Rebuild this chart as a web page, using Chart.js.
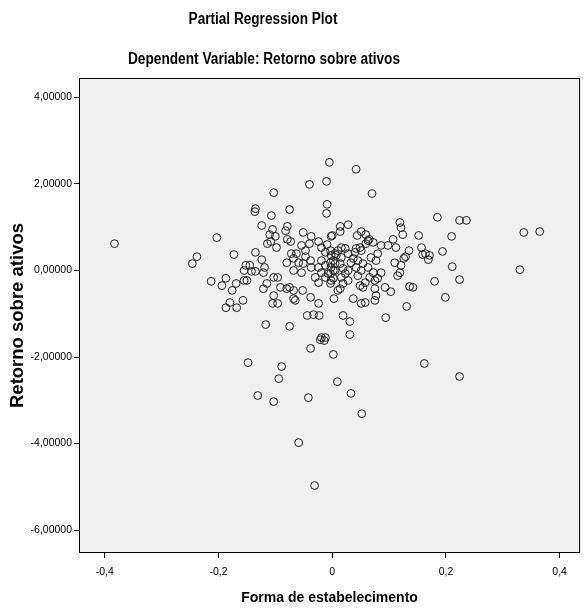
<!DOCTYPE html>
<html><head><meta charset="utf-8">
<script src="https://cdn.jsdelivr.net/npm/chart.js@4"></script>
<style>html,body{margin:0;padding:0;background:#fff;} #wrap{width:585px;height:613px;position:relative}</style>
</head><body><div id="wrap"><canvas id="c" width="585" height="613"></canvas></div>
<script>
const chartTitle = 'Partial Regression Plot';
const chartSubtitle = 'Dependent Variable: Retorno sobre ativos';
const xAxisTitle = 'Forma de estabelecimento';
const yAxisTitle = 'Retorno sobre ativos';
const xTickValues = [-0.4, -0.2, 0, 0.2, 0.4];
const xTickLabels = ['-0,4', '-0,2', '0', '0,2', '0,4'];
const yTickValues = [-6, -4, -2, 0, 2, 4];
const yTickLabels = ['-6,00000', '-4,00000', '-2,00000', '0,00000', '2,00000', '4,00000'];

const xValues = [
 -0.383,-0.246,-0.238,-0.203,-0.173,-0.135,-0.136,-0.135,-0.152,-0.145,
 -0.155,-0.142,-0.135,-0.155,-0.150,-0.213,-0.187,-0.194,-0.169,-0.176,
 -0.180,-0.187,-0.168,-0.157,-0.148,-0.089,-0.094,-0.131,-0.103,-0.038,
 -0.021,-0.014,0.031,0.002,0.009,-0.042,0.033,0.052,-0.059,-0.031,
 0.162,0.224,0.330,0.337,0.365,0.185,0.224,0.236,0.210,0.152,
 0.119,0.121,0.124,0.194,0.211,0.180,0.224,0.199,0.157,0.135,
 0.159,0.164,0.171,0.169,0.126,0.129,0.121,0.119,0.136,0.142,
 0.131,0.094,0.115,-0.005,0.042,-0.040,-0.010,0.070,-0.103,-0.107,
 -0.075,-0.009,-0.010,-0.124,-0.105,-0.079,-0.082,0.028,0.014,0.014,
 0.051,0.059,-0.051,0.000,0.107,-0.110,-0.100,-0.114,-0.108,-0.098,
 -0.073,-0.079,-0.037,-0.024,-0.040,0.044,0.065,0.072,0.086,0.098,
 0.112,-0.124,-0.119,-0.080,-0.072,-0.063,-0.054,-0.047,-0.002,-0.009,
 -0.019,-0.012,-0.003,0.005,-0.068,-0.059,-0.047,-0.051,-0.038,-0.068,
 -0.054,-0.037,-0.024,-0.019,-0.030,-0.024,-0.012,-0.007,0.002,-0.002,
 -0.019,-0.012,-0.003,0.005,-0.121,-0.103,-0.096,-0.115,-0.121,-0.091,
 -0.080,-0.075,-0.068,-0.068,-0.065,-0.052,-0.038,-0.103,-0.105,-0.096,
 -0.024,-0.117,-0.075,-0.044,-0.033,-0.023,-0.019,-0.012,0.063,0.059,
 0.049,0.042,0.051,0.040,0.016,0.023,0.010,0.028,-0.002,0.007,
 0.016,0.002,0.014,0.037,0.045,0.033,0.054,0.068,0.080,0.077,
 0.110,-0.002,0.005,-0.003,0.002,0.019,0.028,0.023,0.016,0.042,
 0.051,0.045,0.063,0.072,0.066,0.086,0.080,0.075,0.058,0.049,
 0.054,0.028,0.019,0.014,0.010,0.075,0.077,0.075,0.093,0.103,
 -0.003,0.037,0.051,0.058,0.003,0.019,0.031
];
const yValues = [
 0.62,0.16,0.32,0.76,0.37,0.42,1.36,1.43,0.12,0.12,
 0.00,-0.02,-0.02,-0.23,-0.23,-0.25,-0.18,-0.35,-0.30,-0.46,
 -0.74,-0.86,-0.86,-0.69,-2.13,-2.22,-2.50,-2.89,-3.03,-1.80,
 -1.60,-1.62,-1.48,-1.94,-2.57,-2.94,-2.84,-3.31,-3.98,-4.97,
 -2.15,-2.45,0.02,0.88,0.90,1.23,1.16,1.16,0.79,0.81,
 1.11,0.99,0.83,0.44,0.09,-0.25,-0.21,-0.62,0.53,0.46,
 0.37,0.39,0.35,0.25,0.28,0.32,0.12,-0.05,-0.37,-0.39,
 -0.83,-1.09,-0.12,2.50,2.34,1.99,2.06,1.78,1.80,1.27,
 1.41,1.53,1.32,1.04,0.95,1.02,0.92,1.06,1.02,0.90,
 0.90,0.83,0.88,0.81,0.72,0.83,0.79,0.62,0.67,0.53,
 0.67,0.72,0.79,0.67,0.62,0.81,0.72,0.65,0.58,0.58,
 0.53,0.25,0.07,0.18,0.39,0.39,0.58,0.46,0.79,0.60,
 0.53,0.42,0.46,0.39,0.28,0.18,0.32,0.16,0.23,0.00,
 -0.05,0.07,0.07,-0.05,-0.16,-0.28,-0.16,-0.07,0.00,-0.23,
 0.23,0.12,0.18,0.16,-0.05,-0.16,-0.16,-0.30,-0.42,-0.39,
 -0.42,-0.39,-0.46,-0.65,-0.69,-0.46,-0.62,-0.58,-0.76,-0.76,
 -0.76,-1.25,-1.29,-1.04,-1.02,-1.04,-1.55,-1.55,0.69,0.62,
 0.53,0.51,0.46,0.42,0.53,0.51,0.46,0.39,0.35,0.35,
 0.30,0.23,0.16,0.28,0.23,0.18,0.16,0.30,0.39,0.23,
 0.18,0.07,0.00,-0.07,-0.18,0.05,0.00,-0.07,-0.16,0.07,
 0.00,-0.12,0.07,-0.05,-0.16,-0.05,-0.18,-0.23,-0.28,-0.35,
 -0.39,-0.23,-0.30,-0.42,-0.46,-0.42,-0.58,-0.69,-0.39,-0.49,
 -0.30,-0.65,-0.76,-0.74,-0.65,-1.04,-1.18
];

const FONT = "'Liberation Sans', Arial, sans-serif";

const points = xValues.map((x, i) => ({ x: x, y: yValues[i] }));

const framePlugin = {
  id: 'frame',
  beforeDatasetsDraw(chart) {
    const a = chart.chartArea, ctx = chart.ctx;
    ctx.save();
    ctx.fillStyle = '#f0f0f0';
    ctx.fillRect(a.left, a.top, a.right - a.left, a.bottom - a.top);
    ctx.restore();
  },
  afterDatasetsDraw(chart) {
    const a = chart.chartArea, ctx = chart.ctx;
    ctx.save();
    ctx.strokeStyle = '#000';
    ctx.lineWidth = 1;
    ctx.strokeRect(a.left + 0.5, a.top + 0.5, a.right - a.left - 1, a.bottom - a.top - 1);
    ctx.restore();
  },
  afterDraw(chart) {
    const ctx = chart.ctx;
    ctx.save();
    ctx.fillStyle = '#000';
    ctx.textAlign = 'center';
    ctx.textBaseline = 'middle';
    ctx.font = 'bold 16px ' + FONT;
    ctx.save();
    ctx.translate(263, 20);
    ctx.scale(0.85, 1);
    ctx.fillText(chartTitle, 0, 0);
    ctx.restore();
    ctx.save();
    ctx.translate(264, 60);
    ctx.scale(0.855, 1);
    ctx.fillText(chartSubtitle, 0, 0);
    ctx.restore();
    ctx.restore();
  }
};

new Chart(document.getElementById('c'), {
  type: 'scatter',
  data: {
    datasets: [{
      data: points,
      pointStyle: 'circle',
      pointRadius: 3.9,
      pointHoverRadius: 3.9,
      borderWidth: 1,
      borderColor: '#222',
      backgroundColor: 'rgba(0,0,0,0)'
    }]
  },
  options: {
    responsive: false,
    animation: false,
    devicePixelRatio: 1,
    layout: { padding: { top: 78, right: 1, left: 0, bottom: 0 } },
    plugins: { legend: { display: false }, tooltip: { enabled: false }, title: { display: false } },
    scales: {
      x: {
        type: 'linear',
        min: -0.4454, max: 0.436,
        afterBuildTicks: s => { s.ticks = xTickValues.map(v => ({ value: v })); },
        afterFit: s => { s.height = 60; },
        grid: { drawOnChartArea: false, drawTicks: true, tickLength: 5, color: '#000' },
        border: { display: false },
        ticks: {
          color: '#000', font: { family: FONT, size: 10.5 }, padding: 8,
          maxRotation: 0, autoSkip: false,
          callback: (v, i) => xTickLabels[i]
        },
        title: { display: true, text: xAxisTitle, color: '#000',
          font: { family: FONT, size: 14, weight: 'bold' }, padding: { top: 0, bottom: 6 } }
      },
      y: {
        type: 'linear',
        min: -6.53, max: 4.45,
        afterBuildTicks: s => { s.ticks = yTickValues.map(v => ({ value: v })); },
        afterFit: s => { s.width = 79; },
        grid: { drawOnChartArea: false, drawTicks: true, tickLength: 5, color: '#000' },
        border: { display: false },
        ticks: {
          color: '#000', font: { family: FONT, size: 10.5 }, padding: 2,
          autoSkip: false,
          callback: (v, i) => yTickLabels[i]
        },
        title: { display: true, text: yAxisTitle, color: '#000',
          font: { family: FONT, size: 18.5, weight: 'bold' }, padding: { top: 7, bottom: 0 } }
      }
    }
  },
  plugins: [framePlugin]
});
</script>
</body></html>
